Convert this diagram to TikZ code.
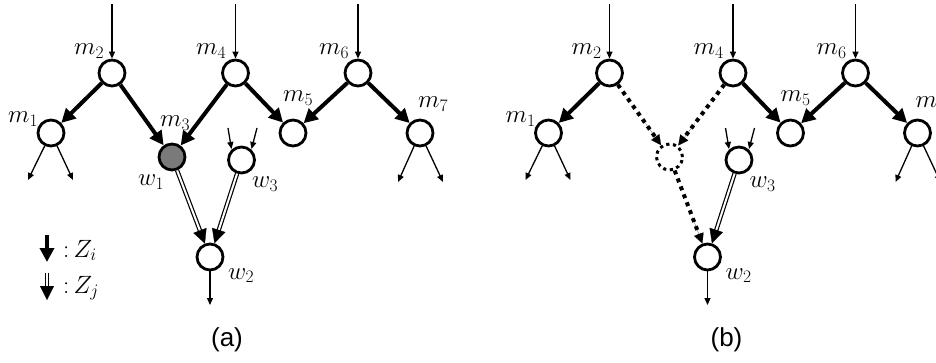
\RequirePackage{fix-cm}
\documentclass[tikz,border=0pt]{standalone}
\usepackage{fontspec}
\newfontfamily\capfont{Liberation Sans}
\usetikzlibrary{arrows.meta,calc}
\begin{document}
\begin{tikzpicture}[x=1pt,y=-1pt,
  nd/.style={circle,draw,line width=2.8pt,minimum size=26pt,inner sep=0pt,fill=white},
  gnd/.style={nd,fill={rgb,255:red,122;green,122;blue,122}},
  dnd/.style={circle,draw,line width=3pt,minimum size=26pt,inner sep=0pt,dash pattern=on 3.2pt off 3.6pt},
  thinarr/.style={line width=1.3pt,-{Triangle[length=7pt,width=6pt]}},
  thickarr/.style={line width=4pt,-{Triangle[length=14pt,width=14pt]}},
  dbl/.style={double,line width=1.2pt,double distance=2pt,shorten >=11pt},
  dbltip/.style={white,line width=0.3pt,-{Triangle[black,length=14pt,width=14pt]}},
  dotarr/.style={line width=4pt,dash pattern=on 4pt off 4.5pt,shorten >=5pt},
  dottip/.style={line width=0.1pt,-{Triangle[black,length=10pt,width=10pt]}},
  lab/.style={anchor=base west,inner sep=0pt,font=\fontsize{25}{30}\selectfont},
  captxt/.style={inner sep=0pt,font=\capfont\fontsize{26}{30}\selectfont}]
\useasboundingbox (0,0) rectangle (936,363);
% ---------------- panel (a)
\node[nd] (am2) at (112,73) {};
\node[nd] (am4) at (235.5,73) {};
\node[nd] (am6) at (358,73) {};
\node[nd] (am1) at (51,133) {};
\node[gnd] (aw1) at (172,157) {};
\node[nd] (aw3) at (241.5,160) {};
\node[nd] (am5) at (293,133) {};
\node[nd] (am7) at (420,133) {};
\node[nd] (aw2) at (210,257) {};
\coordinate (at2) at (112,4);
\coordinate (at4) at (235.5,4);
\coordinate (at6) at (358,4);
\coordinate (ao1a) at (28,180);
\coordinate (ao1b) at (73,180);
\coordinate (ao7a) at (398,182);
\coordinate (ao7b) at (443,182);
\coordinate (ai3a) at (228,128);
\coordinate (ai3b) at (257,128);
\coordinate (ai3ae) at (231.5,149);
\coordinate (ai3be) at (251.5,149);
\coordinate (ao2) at (210,305);
\draw[thinarr] (at2) -- (am2);
\draw[thinarr] (at4) -- (am4);
\draw[thinarr] (at6) -- (am6);
\draw[thinarr] (am1) -- (ao1a);
\draw[thinarr] (am1) -- (ao1b);
\draw[thinarr] (am7) -- (ao7a);
\draw[thinarr] (am7) -- (ao7b);
\draw[thinarr] (ai3a) -- (ai3ae);
\draw[thinarr] (ai3b) -- (ai3be);
\draw[thinarr] (aw2) -- (ao2);
\draw[thickarr] (am2) -- (am1);
\draw[thickarr] (am2) -- (aw1);
\draw[thickarr] (am4) -- (aw1);
\draw[thickarr] (am4) -- (am5);
\draw[thickarr] (am6) -- (am5);
\draw[thickarr] (am6) -- (am7);
\draw[dbl] (aw1) -- (aw2);
\draw[dbltip] ($(aw1)!0.5!(aw2)$) -- (aw2);
\draw[dbl] (aw3) -- (aw2);
\draw[dbltip] ($(aw3)!0.5!(aw2)$) -- (aw2);
\node[lab] (lm2) at (74,55) {$m_2$};
\node[lab] (lm4) at (196,55) {$m_4$};
\node[lab] (lm6) at (319,55) {$m_6$};
\node[lab] (lm1) at (8,123) {$m_1$};
\node[lab] (lm3) at (160,127) {$m_3$};
\node[lab] (lm5) at (283,102) {$m_5$};
\node[lab] (lm7) at (418,108) {$m_7$};
\node[lab] (lw1) at (138,186) {$w_1$};
\node[lab] (lw3) at (252,188) {$w_3$};
\node[lab] (lw2) at (228,279) {$w_2$};
% legend
\coordinate (lg1s) at (47,235);
\coordinate (lg1e) at (47,262);
\coordinate (lg2s) at (47,273);
\coordinate (lg2e) at (47,300);
\draw[thickarr] (lg1s) -- (lg1e);
\draw[dbl] (lg2s) -- (lg2e);
\draw[dbltip] ($(lg2s)!0.5!(lg2e)$) -- (lg2e);
\node[lab] (lzi) at (63,257) {$\mathord{:}\,Z_i$};
\node[lab] (lzj) at (63,293) {$\mathord{:}\,Z_j$};
\node[captxt] (capa) at (227,340) {(a)};
% ---------------- panel (b)
\begin{scope}[xshift=497.5pt]
\node[nd] (bm2) at (112,73) {};
\node[nd] (bm4) at (235.5,73) {};
\node[nd] (bm6) at (358,73) {};
\node[nd] (bm1) at (51,133) {};
\node[dnd] (bw1) at (172,157) {};
\node[nd] (bw3) at (241.5,160) {};
\node[nd] (bm5) at (293,133) {};
\node[nd] (bm7) at (420,133) {};
\node[nd] (bw2) at (210,257) {};
\coordinate (bt2) at (112,4);
\coordinate (bt4) at (235.5,4);
\coordinate (bt6) at (358,4);
\coordinate (bo1a) at (28,180);
\coordinate (bo1b) at (73,180);
\coordinate (bo7a) at (398,182);
\coordinate (bo7b) at (443,182);
\coordinate (bi3a) at (228,128);
\coordinate (bi3b) at (257,128);
\coordinate (bi3ae) at (231.5,149);
\coordinate (bi3be) at (251.5,149);
\coordinate (bo2) at (210,305);
\draw[thinarr] (bt2) -- (bm2);
\draw[thinarr] (bt4) -- (bm4);
\draw[thinarr] (bt6) -- (bm6);
\draw[thinarr] (bm1) -- (bo1a);
\draw[thinarr] (bm1) -- (bo1b);
\draw[thinarr] (bm7) -- (bo7a);
\draw[thinarr] (bm7) -- (bo7b);
\draw[thinarr] (bi3a) -- (bi3ae);
\draw[thinarr] (bi3b) -- (bi3be);
\draw[thinarr] (bw2) -- (bo2);
\draw[thickarr] (bm2) -- (bm1);
\draw[thickarr] (bm4) -- (bm5);
\draw[thickarr] (bm6) -- (bm5);
\draw[thickarr] (bm6) -- (bm7);
\draw[dotarr] (bm2) -- (bw1);
\draw[dottip] ($(bm2)!0.6!(bw1)$) -- (bw1);
\draw[dotarr] (bm4) -- (bw1);
\draw[dottip] ($(bm4)!0.6!(bw1)$) -- (bw1);
\draw[dotarr] (bw1) -- (bw2);
\draw[dottip] ($(bw1)!0.6!(bw2)$) -- (bw2);
\draw[dbl] (bw3) -- (bw2);
\draw[dbltip] ($(bw3)!0.5!(bw2)$) -- (bw2);
\node[lab] (blm2) at (74,55) {$m_2$};
\node[lab] (blm4) at (196,55) {$m_4$};
\node[lab] (blm6) at (319,55) {$m_6$};
\node[lab] (blm1) at (8,123) {$m_1$};
\node[lab] (blm5) at (283,102) {$m_5$};
\node[lab] (blm7) at (418,108) {$m_7$};
\node[lab] (blw3) at (252,188) {$w_3$};
\node[lab] (blw2) at (228,279) {$w_2$};
\node[captxt] (capb) at (229,340) {(b)};
\end{scope}
\end{tikzpicture}
\end{document}
